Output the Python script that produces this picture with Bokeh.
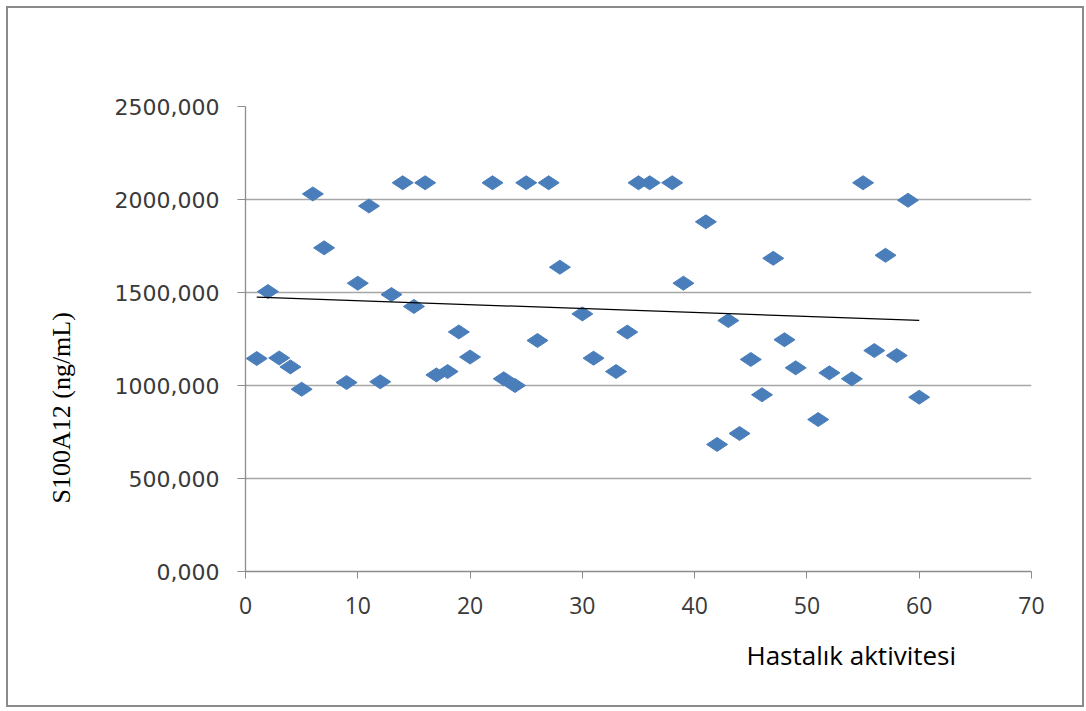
import math
from bokeh.plotting import figure
from bokeh.models import Range1d, FixedTicker, Title, ColumnDataSource
from bokeh.embed import file_html
from bokeh.resources import INLINE

# ---- data ----
activity = [1, 2, 3, 4, 5, 6, 7, 9, 10, 11, 12, 13, 14, 15, 16, 17, 18, 19, 20,
            22, 23, 24, 25, 26, 27, 28, 30, 31, 33, 34, 35, 36, 38, 39, 41, 42,
            43, 44, 45, 46, 47, 48, 49, 51, 52, 54, 55, 56, 57, 58, 59, 60]
s100a12 = [1145, 1505, 1148, 1100, 980, 2030, 1740, 1016, 1550, 1965, 1020, 1489,
           2090, 1425, 2090, 1057, 1075, 1288, 1153, 2090, 1036, 1000, 2090, 1242,
           2090, 1636, 1385, 1147, 1075, 1287, 2090, 2090, 2090, 1550, 1880, 683,
           1349, 742, 1140, 950, 1684, 1246, 1095, 817, 1068, 1036, 2090, 1188,
           1700, 1161, 1996, 937]
trend_x = [1, 60]
trend_y = [1475, 1350]

x_ticks = [0, 10, 20, 30, 40, 50, 60, 70]
y_ticks = [0, 500, 1000, 1500, 2000, 2500]
y_tick_labels = ["0,000", "500,000", "1000,000", "1500,000", "2000,000", "2500,000"]
x_title = "Hastalık aktivitesi"
y_title = "S100A12 (ng/mL)"

W, H = 1078, 701
p = figure(width=W, height=H, output_backend="svg", toolbar_location=None,
           x_range=Range1d(0, 70), y_range=Range1d(0, 2500),
           min_border_left=236, min_border_right=55, min_border_top=98,
           min_border_bottom=138)
p.styles = {"border": "2px solid #8a8a8a", "box-sizing": "border-box",
            "margin-left": "6px", "margin-top": "6px"}
p.outline_line_color = None
p.background_fill_color = "white"
p.border_fill_color = "white"

# grid
p.xgrid.visible = False
p.ygrid.ticker = FixedTicker(ticks=y_ticks)
p.ygrid.grid_line_color = "#a6a6a6"
p.ygrid.grid_line_width = 1.3

# axes
p.xaxis.ticker = FixedTicker(ticks=x_ticks)
p.yaxis.ticker = FixedTicker(ticks=y_ticks)
p.yaxis.major_label_overrides = {t: l for t, l in zip(y_ticks, y_tick_labels)}
for ax in (p.xaxis[0], p.yaxis[0]):
    ax.axis_line_color = "#8c8c8c"
    ax.axis_line_width = 1.3
    ax.major_tick_line_color = "#8c8c8c"
    ax.major_tick_in = 0
    ax.minor_tick_line_color = None
p.yaxis.major_tick_out = 8
p.xaxis.major_tick_out = 7
p.yaxis.major_label_text_font = "DejaVu Sans"
p.yaxis.major_label_text_font_size = "22px"
p.yaxis.major_label_text_color = "#3a3a3a"
p.yaxis.major_label_standoff = 18
p.xaxis.major_label_text_font = "Open Sans"
p.xaxis.major_label_text_font_size = "23px"
p.xaxis.major_label_text_color = "#3a3a3a"
p.xaxis.major_label_standoff = 18

src = ColumnDataSource(dict(x=activity, y=s100a12))
p.scatter("x", "y", source=src, marker="diamond", size=21, angle=math.pi / 2,
          fill_color="#4a7ebb", line_color="#4a7ebb", line_width=1)
p.line(trend_x, trend_y, line_color="black", line_width=1.2)

# axis titles as side-panel titles (not clipped by the frame)
p.add_layout(Title(text=x_title, align="left", offset=501, standoff=36,
                   text_font="Open Sans", text_font_size="26px",
                   text_font_style="normal", text_color="black"), "below")
p.add_layout(Title(text=y_title, align="left", offset=68, standoff=72,
                   text_font="Liberation Serif", text_font_size="26px",
                   text_font_style="normal", text_color="black"), "left")

open("out.html", "w").write(file_html(p, INLINE))
